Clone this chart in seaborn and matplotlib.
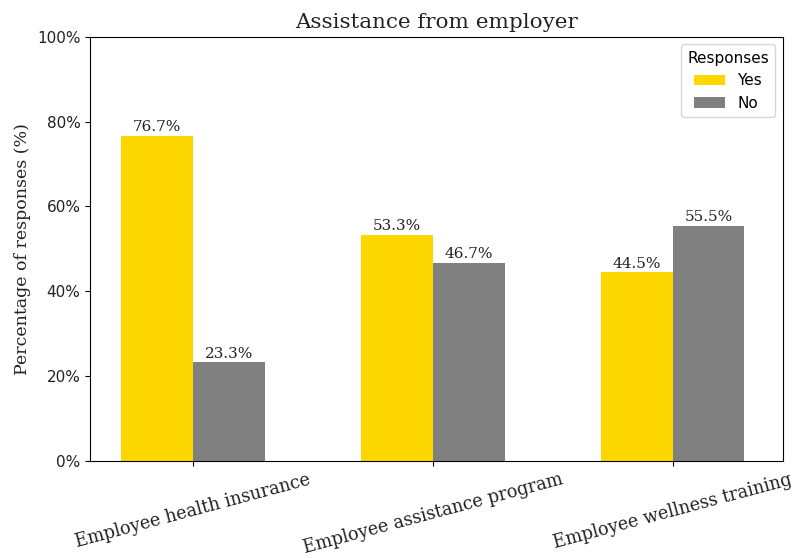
import matplotlib
matplotlib.use("Agg")
import matplotlib.pyplot as plt
import seaborn as sns
import pandas as pd
from matplotlib.ticker import PercentFormatter

categories = ["Employee health insurance", "Employee assistance program", "Employee wellness training"]
yes_values = [76.7, 53.3, 44.5]
no_values = [23.3, 46.7, 55.5]
responses = ["Yes", "No"]
colors = ["#FFD700", "#808080"]

df = pd.DataFrame({
    "Category": categories * 2,
    "Percent": yes_values + no_values,
    "Response": [responses[0]] * 3 + [responses[1]] * 3,
})

fig, ax = plt.subplots(figsize=(7.98, 5.58), dpi=100)
sns.barplot(data=df, x="Category", y="Percent", hue="Response", hue_order=responses,
            palette=colors, width=0.6, ax=ax, saturation=1, errorbar=None)

for cont in ax.containers:
    ax.bar_label(cont, fmt="%.1f%%", fontsize=11, family="DejaVu Serif", padding=1, color="#222222")

ax.set_ylim(0, 100)
ax.set_xlim(-0.43, 2.46)
ax.yaxis.set_major_formatter(PercentFormatter(100, decimals=0))
ax.set_ylabel("Percentage of responses (%)", family="DejaVu Serif", fontsize=12.5, color="#222222")
ax.set_xlabel("")
ax.set_title("Assistance from employer", family="DejaVu Serif", fontsize=15.4, color="#222222")
ax.tick_params(axis="y", labelsize=11, labelcolor="#222222")
ax.tick_params(axis="x", pad=3.5, labelcolor="#222222")
for lab in ax.get_xticklabels():
    lab.set_family("DejaVu Serif")
    lab.set_fontsize(12.7)
    lab.set_rotation(15)
    lab.set_ha("center")
leg = ax.legend(title="Responses", loc="upper right", fontsize=11, title_fontsize=11)

fig.subplots_adjust(left=0.113, right=0.981, top=0.934, bottom=0.174)
fig.savefig("out.png", dpi=100)
